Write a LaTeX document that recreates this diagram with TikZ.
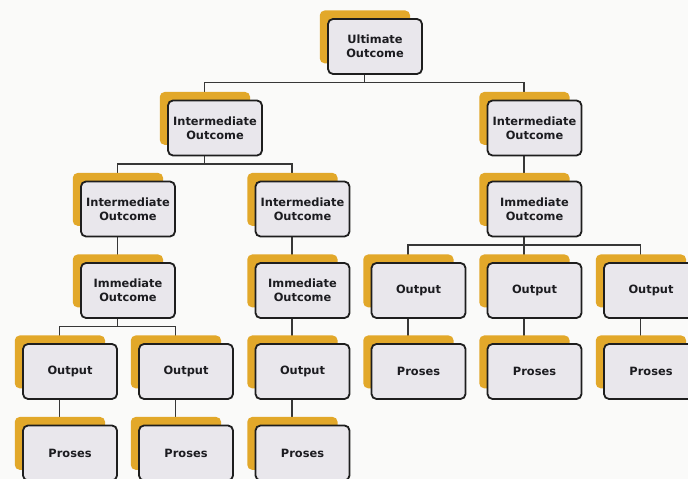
\documentclass[tikz,border=0pt]{standalone}
\usepackage{xcolor}
\usepackage{fontspec}
\usepackage{tikz}
\usetikzlibrary{shadows, backgrounds, calc}

\newfontfamily\boxfont{DejaVu Sans}

\definecolor{boxgold}{RGB}{226,168,42}
\definecolor{boxfill}{RGB}{233,231,236}
\definecolor{boxline}{RGB}{30,30,30}
\definecolor{linkline}{RGB}{55,55,55}
\definecolor{paper}{RGB}{250,250,249}
\definecolor{boxtext}{RGB}{28,28,32}

\begin{document}
\begin{tikzpicture}[
x=1pt, y=1pt,
tree box/.style = {draw=boxline, line width=1.8pt, rounded corners=5pt,
  fill=boxfill, minimum width=94pt, minimum height=55pt, inner sep=0pt,
  align=center, text=boxtext,
  font=\boxfont\bfseries\fontsize{11.4pt}{14pt}\selectfont,
  general shadow={fill=boxgold, shadow xshift=-10.5pt, shadow yshift=10pt, shadow scale=0.96}},
link/.style = {draw=linkline, line width=1.3pt}
]

\useasboundingbox (0,0) rectangle (688,479);
\clip (0,0) rectangle (688,479);

\node (u)  at (375, 432.5) [tree box] {Ultimate\\Outcome};

\node (i1) at (215, 351)   [tree box] {Intermediate\\Outcome};
\node (i2) at (534.5, 351) [tree box] {Intermediate\\Outcome};

\node (i3) at (128, 270)   [tree box] {Intermediate\\Outcome};
\node (i4) at (302.5, 270) [tree box] {Intermediate\\Outcome};
\node (m3) at (534.5, 270) [tree box] {Immediate\\Outcome};

\node (m1) at (128, 188.5)   [tree box] {Immediate\\Outcome};
\node (m2) at (302.5, 188.5) [tree box] {Immediate\\Outcome};
\node (o4) at (418.5, 188.5) [tree box] {Output};
\node (o5) at (534.5, 188.5) [tree box] {Output};
\node (o6) at (651, 188.5)   [tree box] {Output};

\node (o1) at (70, 107.5)    [tree box] {Output};
\node (o2) at (186, 107.5)   [tree box] {Output};
\node (o3) at (302.5, 107.5) [tree box] {Output};
\node (p4) at (418.5, 107.5) [tree box] {Proses};
\node (p5) at (534.5, 107.5) [tree box] {Proses};
\node (p6) at (651, 107.5)   [tree box] {Proses};

\node (p1) at (70, 26)    [tree box] {Proses};
\node (p2) at (186, 26)   [tree box] {Proses};
\node (p3) at (302.5, 26) [tree box] {Proses};

\begin{pgfonlayer}{background}
\fill[paper] (0,0) rectangle (688,479);

\draw[link] ([xshift=-10.5pt]u.south) -- ++(0,-7.5) -| ([xshift=-10.5pt]i1.north);
\draw[link] ([xshift=-10.5pt]u.south) -- ++(0,-7.5) -| ([xshift=-10.5pt]i2.north);

\draw[link] ([xshift=-10.5pt]i1.south) -- ++(0,-7.5) -| ([xshift=-10.5pt]i3.north);
\draw[link] ([xshift=-10.5pt]i1.south) -- ++(0,-7.5) -| ([xshift=-10.5pt]i4.north);
\draw[link] ([xshift=-10.5pt]i2.south) -- ([xshift=-10.5pt]m3.north);

\draw[link] ([xshift=-10.5pt]i3.south) -- ([xshift=-10.5pt]m1.north);
\draw[link] ([xshift=-10.5pt]i4.south) -- ([xshift=-10.5pt]m2.north);

\draw[link] ([xshift=-10.5pt]m3.south) -- ++(0,-7.5) -| ([xshift=-10.5pt]o4.north);
\draw[link] ([xshift=-10.5pt]m3.south) -- ++(0,-7.5) -| ([xshift=-10.5pt]o5.north);
\draw[link] ([xshift=-10.5pt]m3.south) -- ++(0,-7.5) -| ([xshift=-10.5pt]o6.north);

\draw[link] ([xshift=-10.5pt]m1.south) -- ++(0,-7.5) -| ([xshift=-10.5pt]o1.north);
\draw[link] ([xshift=-10.5pt]m1.south) -- ++(0,-7.5) -| ([xshift=-10.5pt]o2.north);
\draw[link] ([xshift=-10.5pt]m2.south) -- ([xshift=-10.5pt]o3.north);

\draw[link] ([xshift=-10.5pt]o1.south) -- ([xshift=-10.5pt]p1.north);
\draw[link] ([xshift=-10.5pt]o2.south) -- ([xshift=-10.5pt]p2.north);
\draw[link] ([xshift=-10.5pt]o3.south) -- ([xshift=-10.5pt]p3.north);
\draw[link] ([xshift=-10.5pt]o4.south) -- ([xshift=-10.5pt]p4.north);
\draw[link] ([xshift=-10.5pt]o5.south) -- ([xshift=-10.5pt]p5.north);
\draw[link] ([xshift=-10.5pt]o6.south) -- ([xshift=-10.5pt]p6.north);
\end{pgfonlayer}
\end{tikzpicture}
\end{document}
